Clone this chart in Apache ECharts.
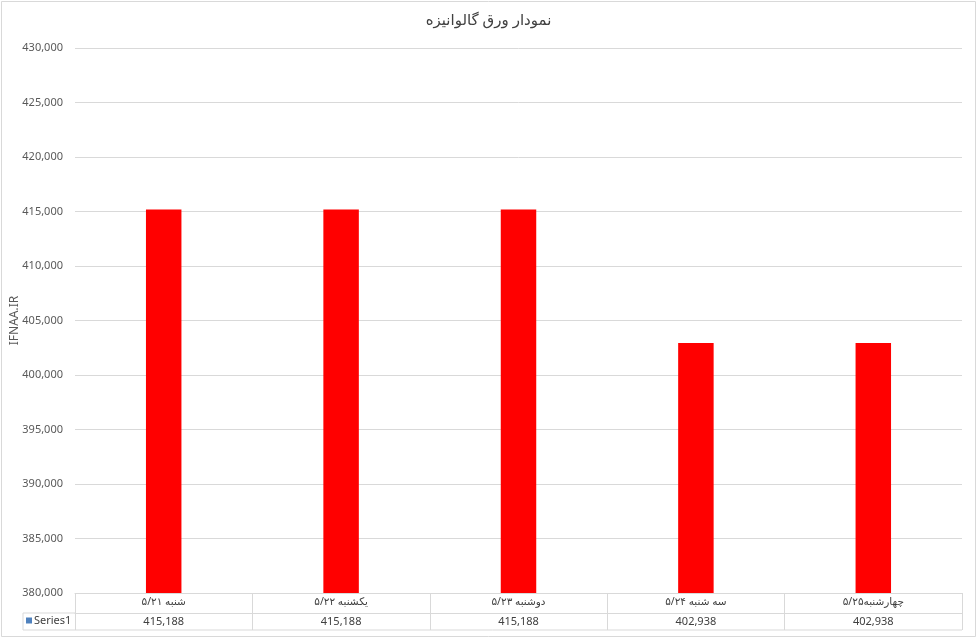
<!DOCTYPE html>
<html><head><meta charset="utf-8">
<script src="https://cdn.jsdelivr.net/npm/echarts@6/dist/echarts.min.js"></script>
<style>html,body{margin:0;padding:0;background:#fff}#c{width:977px;height:638px}</style>
</head><body><div id="c"></div>
<script>
var titleText = 'نمودار ورق گالوانیزه';
var categories = ['شنبه ۵/۲۱', 'یکشنبه ۵/۲۲', 'دوشنبه ۵/۲۳', 'سه شنبه ۵/۲۴', 'چهارشنبه۵/۲۵'];
var values = [415188, 415188, 415188, 402938, 402938];
var seriesName = 'Series1';
var yAxisName = 'IFNAA.IR';
var yMin = 380000, yMax = 430000, yStep = 5000;

var FONT = '"Noto Sans", "DejaVu Sans", sans-serif';
var GRID = {left: 75, right: 15, top: 48, bottom: 45, containLabel: false, outerBoundsMode: 'none'};
var W = 977, H = 638;
var gx0 = GRID.left, gx1 = W - GRID.right, gy1 = H - GRID.bottom;
var fmt = function (v) { return v.toLocaleString('en-US'); };

var chart = echarts.init(document.getElementById('c'));
chart.setOption({
  animation: false,
  backgroundColor: '#fff',
  textStyle: {fontFamily: FONT},
  title: {text: titleText, left: 'center', top: 8,
    textStyle: {fontSize: 15, fontWeight: 'normal', color: '#404040', fontFamily: FONT}},
  legend: {left: 26, top: gy1 + 22, padding: 0, itemWidth: 6, itemHeight: 6, itemGap: 2,
    icon: 'rect', textStyle: {fontSize: 11, color: '#404040', padding: [0,0,0,-3]},
    data: [{name: seriesName, itemStyle: {color: '#4f81bd'}}], selectedMode: false},
  grid: GRID,
  xAxis: [{
    type: 'category', data: categories, position: 'bottom',
    axisLine: {lineStyle: {color: '#d9d9d9'}},
    axisTick: {show: true, length: 37, lineStyle: {color: '#d9d9d9'}},
    axisLabel: {fontSize: 10.5, color: '#404040', margin: 4}
  }, {
    type: 'category', data: categories, position: 'bottom', offset: 20,
    axisLine: {show: true, lineStyle: {color: '#d9d9d9'}},
    axisTick: {show: false},
    axisLabel: {fontSize: 11, color: '#404040', margin: 3,
      formatter: function (v, i) { return fmt(values[i]); }}
  }],
  yAxis: {
    type: 'value', min: yMin, max: yMax, interval: yStep,
    name: yAxisName, nameLocation: 'middle', nameGap: 54, nameMoveOverlap: false,
    nameTextStyle: {fontSize: 12, color: '#595959'},
    axisLine: {show: false}, axisTick: {show: false},
    axisLabel: {fontSize: 11, color: '#595959', margin: 12, formatter: fmt},
    splitLine: {lineStyle: {color: '#d9d9d9'}}
  },
  series: [{
    name: seriesName, type: 'bar', data: values, barWidth: '20%',
    itemStyle: {color: '#ff0000'}
  }],
  graphic: [
    {type: 'rect', shape: {x: 1.5, y: 1.5, width: W - 3, height: H - 3},
      style: {fill: null, stroke: '#d9d9d9', lineWidth: 1}, silent: true},
    {type: 'line', shape: {x1: 23, y1: gy1 + 20, x2: gx0, y2: gy1 + 20},
      style: {stroke: '#d9d9d9', lineWidth: 1}, silent: true},
    {type: 'line', shape: {x1: 23, y1: gy1 + 37, x2: gx1, y2: gy1 + 37},
      style: {stroke: '#d9d9d9', lineWidth: 1}, silent: true},
    {type: 'line', shape: {x1: 23, y1: gy1 + 20, x2: 23, y2: gy1 + 37},
      style: {stroke: '#d9d9d9', lineWidth: 1}, silent: true}
  ]
});
</script></body></html>
